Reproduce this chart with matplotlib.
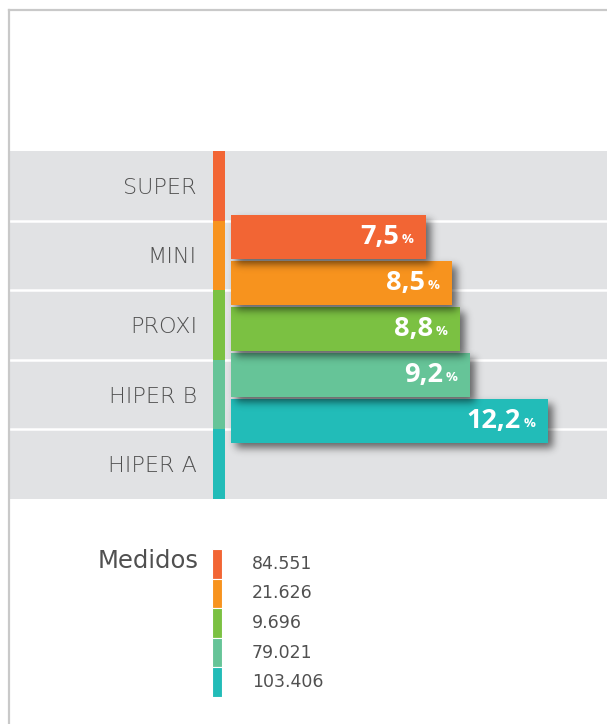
import matplotlib
matplotlib.use("Agg")
import numpy as np
import matplotlib.pyplot as plt
from matplotlib.lines import Line2D

# data
categories = ["SUPER", "MINI", "PROXI", "HIPER B", "HIPER A"]
shares = [7.5, 8.5, 8.8, 9.2, 12.2]
share_labels = ["7,5", "8,5", "8,8", "9,2", "12,2"]
measured = ["84.551", "21.626", "9.696", "79.021", "103.406"]
colors = ["#f26534", "#f7931e", "#7bc142", "#66c498", "#22bcb8"]

W, H = 607, 724
fig = plt.figure(figsize=(W / 100, H / 100), dpi=100)
fig.patch.set_facecolor("white")

def frac(x0, y0, x1, y1):
    # pixel box -> figure fraction rect
    return [x0 / W, 1 - y1 / H, (x1 - x0) / W, (y1 - y0) / H]


def blur(a, sigma):
    n = int(3 * sigma)
    k = np.exp(-0.5 * (np.arange(-n, n + 1) / sigma) ** 2)
    k /= k.sum()
    a = np.apply_along_axis(lambda r: np.convolve(r, k, mode="same"), 0, a)
    a = np.apply_along_axis(lambda r: np.convolve(r, k, mode="same"), 1, a)
    return a


def drop_shadow(sigma=4, dx=5, dy=5, alpha=0.55):
    # soft shadow, shifted right / down
    def f(im, dpi):
        pad = int(3 * sigma) + max(dx, dy)
        ny, nx, _ = im.shape
        src = np.zeros((ny + 2 * pad, nx + 2 * pad))
        src[pad:pad + ny, pad:pad + nx] = im[..., 3]
        a = blur(src * alpha, sigma)
        a = np.roll(np.roll(a, dy, axis=0), dx, axis=1)
        out = np.zeros((a.shape[0], a.shape[1], 4))
        out[..., 3] = a
        return out, -pad, -pad
    return f


# frame lines top / left
fig.add_artist(Line2D([9 / W, 1], [1 - 10 / H, 1 - 10 / H], color="#c9c9c9", lw=1.6))
fig.add_artist(Line2D([9 / W, 9 / W], [0, 1 - 10 / H], color="#c9c9c9", lw=1.6))

x_min = (9 - 231) / 26
x_max = (607 - 231) / 26
txt = "#505050"
lab_font = "DejaVu Sans"

# grey band with rows
ax = fig.add_axes(frac(9, 151, 607, 499))
ax.set_facecolor("#e1e2e4")
ax.set_xlim(x_min, x_max)
ax.set_ylim(len(categories) - 0.5, -0.5)
for b in range(1, len(categories)):
    ax.axhline(b - 0.5, color="white", lw=1.8, zorder=1)
ax.barh(range(len(categories)), 0.46, left=-0.69, height=1.0, color=colors, zorder=3)
for i, c in enumerate(categories):
    ax.text(-1.31, i + 0.03, c, ha="right", va="center", fontsize=16,
            color=txt, family=lab_font, fontweight="light")
ax.set_xticks([])
ax.set_yticks([])
for s in ax.spines.values():
    s.set_visible(False)

# bars
bx = fig.add_axes(frac(9, 214, 607, 444))
bx.patch.set_alpha(0)
bx.set_xlim(x_min, x_max)
bx.set_ylim(len(shares) - 0.5, -0.5)
n = len(shares)
shadows = bx.barh(range(n), shares, height=0.97, color="black")
bars = bx.barh(range(n), shares, height=0.97, color=colors)
for i in range(n):
    # upper bar + its shadow sit over the next bar
    bars[i].set_zorder(20 - 2 * i)
    shadows[i].set_zorder(19 - 2 * i)
    shadows[i].set_agg_filter(drop_shadow())
for i, (v, lab) in enumerate(zip(shares, share_labels)):
    bx.annotate(lab, (v, i), xytext=(-19.5, 0), textcoords="offset points",
                ha="right", va="center", fontsize=19.5, color="white",
                family="Open Sans", fontweight="bold", zorder=30)
    bx.annotate("%", (v, i), xytext=(-9, -2), textcoords="offset points",
                ha="right", va="center", fontsize=9.5, color="white",
                family="Open Sans", fontweight="bold", zorder=30)
bx.axis("off")

# legend block
lx = fig.add_axes(frac(212, 549, 222, 697))
lx.set_xlim(0, 1)
lx.set_ylim(len(measured) - 0.5, -0.5)
lx.barh(range(len(measured)), 1, height=1.0, color=colors, edgecolor="white", lw=0.8)
lx.axis("off")
for i, m in enumerate(measured):
    lx.text(4.0, i, m, ha="left", va="center", fontsize=12.5, color=txt,
            family=lab_font, transform=lx.get_yaxis_transform())
lx.text(-1.3, -0.1, "Medidos", ha="right", va="center", fontsize=17.5,
        color=txt, family=lab_font, transform=lx.get_yaxis_transform())

fig.savefig("out.png", dpi=100, facecolor="white")
